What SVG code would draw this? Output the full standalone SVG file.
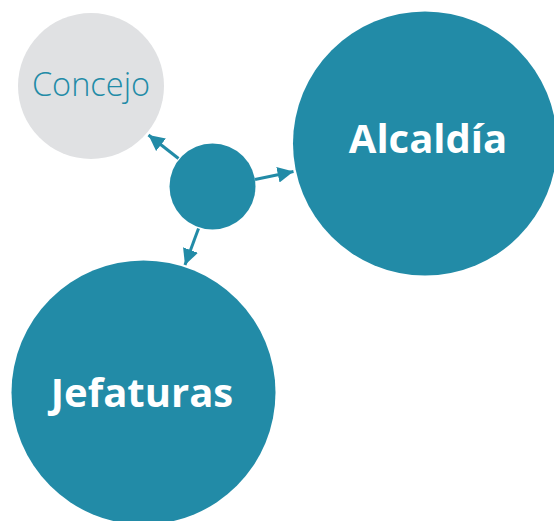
<svg xmlns="http://www.w3.org/2000/svg" width="554" height="521" viewBox="0 0 554 521">
<style>
.teal{fill:#228ba7}
.gray{fill:#e0e1e3}
.big{font-family:"Open Sans","Noto Sans",sans-serif;font-weight:700;font-size:40px;fill:#ffffff;text-anchor:middle}
.light{font-family:"Open Sans","Noto Sans",sans-serif;font-weight:300;font-size:32.5px;fill:#228ba7;text-anchor:middle}
.conn{stroke:#228ba7;stroke-width:3;fill:none;marker-end:url(#ah)}
</style>
<defs>
<marker id="ah" viewBox="0 0 10 10" refX="10" refY="5" markerWidth="5.3" markerHeight="5.3" markerUnits="strokeWidth" orient="auto">
<path d="M0,0 L10,5 L0,10 z" fill="#228ba7"/>
</marker>
</defs>
<g id="concejo">
<circle class="gray" cx="91" cy="86" r="73"/>
<text class="light" x="91" y="96">Concejo</text>
</g>
<g id="alcaldia">
<circle class="teal" cx="425" cy="143.5" r="132"/>
<text class="big" x="428" y="153">Alcaldía</text>
</g>
<g id="jefaturas">
<circle class="teal" cx="143.5" cy="392.5" r="132"/>
<text class="big" x="142" y="407">Jefaturas</text>
</g>
<g id="centro">
<circle class="teal" cx="212.5" cy="186.5" r="43"/>
</g>
<g id="connectors">
<line class="conn" x1="178.5" y1="158.5" x2="148.5" y2="135"/>
<line class="conn" x1="255" y1="179.5" x2="293.5" y2="171.5"/>
<line class="conn" x1="198.5" y1="228.5" x2="185" y2="265"/>
</g>
</svg>
